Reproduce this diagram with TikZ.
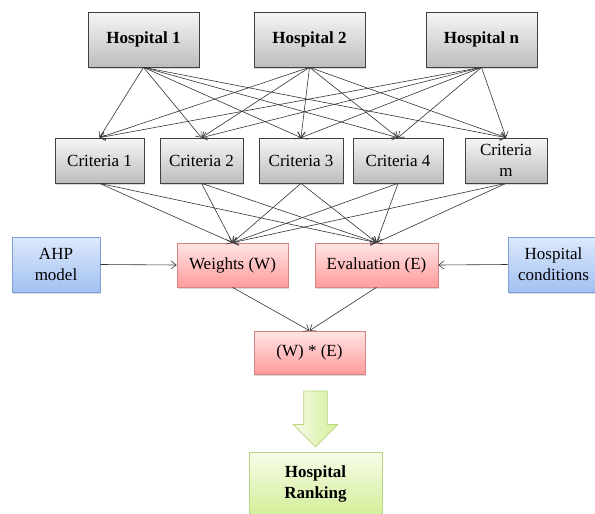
\documentclass[tikz,border=0pt]{standalone}
\usepackage{fontspec}
\setmainfont{Liberation Serif}
\usepackage{xcolor}
\usepackage{tikz}
\usetikzlibrary{
    arrows.meta,
    positioning,
    shapes.arrows,
    shadows
}

\definecolor{grayTop}{HTML}{F6F6F6}
\definecolor{grayBot}{HTML}{BDBDBD}
\definecolor{redTop}{HTML}{FFE4E4}
\definecolor{redBot}{HTML}{FF9C9C}
\definecolor{redLine}{HTML}{D98585}
\definecolor{blueTop}{HTML}{DDE9FD}
\definecolor{blueBot}{HTML}{A2C0F2}
\definecolor{blueLine}{HTML}{7FA2D6}
\definecolor{greenTop}{HTML}{F7FCE9}
\definecolor{greenBot}{HTML}{D3EE98}
\definecolor{greenLine}{HTML}{B6D683}

\begin{document}
\begin{tikzpicture}[
    x=1pt, y=-1pt,
    box/.style={
        rectangle,
        inner sep=2pt,
        align=center,
        font=\fontsize{17}{21}\selectfont,
        line width=0.7pt,
        drop shadow={shadow xshift=1.2pt, shadow yshift=-1.5pt, opacity=0.3}
    },
    hospital/.style={box, draw=black!75, top color=grayTop, bottom color=grayBot,
        font=\fontsize{17}{21}\selectfont\bfseries, minimum width=111pt, minimum height=55pt},
    criteria/.style={box, draw=black!75, top color=grayTop, bottom color=grayBot, minimum height=45pt},
    calc/.style={box, draw=redLine, top color=redTop, bottom color=redBot, minimum height=44pt},
    source/.style={box, draw=blueLine, top color=blueTop, bottom color=blueBot, minimum height=55pt},
    result/.style={box, draw=greenLine, top color=greenTop, bottom color=greenBot,
        font=\fontsize{17}{21}\selectfont\bfseries},
    arrow/.style={-{Straight Barb[length=5pt, width=8pt]}, line width=0.6pt, black!80}
]

\useasboundingbox (0,0) rectangle (595,514);

% Hospitals
\node[hospital] (h1) at (143.5, 39.5) {Hospital 1};
\node[hospital] (h2) at (309.5, 39.5) {Hospital 2};
\node[hospital] (hn) at (481.5, 39.5) {Hospital n};

% Criteria
\node[criteria, minimum width=89pt] (c1) at (99.5, 160.5) {Criteria 1};
\node[criteria, minimum width=83pt] (c2) at (201.5, 160.5) {Criteria 2};
\node[criteria, minimum width=84pt] (c3) at (301, 160.5) {Criteria 3};
\node[criteria, minimum width=90pt] (c4) at (398, 160.5) {Criteria 4};
\node[criteria, minimum width=82pt] (cm) at (506, 160.5) {Criteria\\m};

% Weights and evaluation
\node[source, minimum width=88pt] (ahp) at (56, 264.5) {AHP\\model};
\node[calc, minimum width=111pt] (weights) at (232.5, 265) {Weights (W)};
\node[calc, minimum width=123pt] (eval) at (376.5, 265) {Evaluation (E)};
\node[source, minimum width=91pt] (cond) at (553.5, 264.5) {Hospital\\conditions};

% Product
\node[calc, minimum width=111pt, minimum height=43pt] (prod) at (309.5, 352.5) {(W) * (E)};

% Big arrow
\node[single arrow, rotate=-90, draw=greenLine, line width=0.7pt,
      left color=greenTop, right color=greenBot,
      minimum height=56pt, inner xsep=0pt, inner ysep=11.5pt,
      single arrow head extend=10.5pt] (down) at (315.5, 413) {};

% Ranking
\node[result, minimum width=133pt, minimum height=64pt] (rank) at (315.5, 484) {Hospital\\Ranking};

% Arrows - hospitals to criteria
\draw[arrow] (h1.south) -- (c1.north);
\draw[arrow] (h1.south) -- (c2.north);
\draw[arrow] (h1.south) -- (c3.north);
\draw[arrow] (h1.south) -- (c4.north);
\draw[arrow] (h1.south) -- (cm.north);
\draw[arrow] (h2.south) -- (c1.north);
\draw[arrow] (h2.south) -- (c2.north);
\draw[arrow] (h2.south) -- (c3.north);
\draw[arrow] (h2.south) -- (c4.north);
\draw[arrow] (h2.south) -- (cm.north);
\draw[arrow] (hn.south) -- (c1.north);
\draw[arrow] (hn.south) -- (c2.north);
\draw[arrow] (hn.south) -- (c3.north);
\draw[arrow] (hn.south) -- (c4.north);
\draw[arrow] (hn.south) -- (cm.north);

% Arrows - criteria to weights and evaluation
\draw[arrow] (c1.south) -- (weights.north);
\draw[arrow] (c2.south) -- (weights.north);
\draw[arrow] (c3.south) -- (weights.north);
\draw[arrow] (c4.south) -- (weights.north);
\draw[arrow] (cm.south) -- (weights.north);
\draw[arrow] (c1.south) -- (eval.north);
\draw[arrow] (c2.south) -- (eval.north);
\draw[arrow] (c3.south) -- (eval.north);
\draw[arrow] (c4.south) -- (eval.north);
\draw[arrow] (cm.south) -- (eval.north);

% Side inputs
\draw[arrow] (ahp.east) -- (weights.west);
\draw[arrow] (cond.west) -- (eval.east);

% Product
\draw[arrow] (weights.south) -- (prod.north);
\draw[arrow] (eval.south) -- (prod.north);

\end{tikzpicture}
\end{document}
